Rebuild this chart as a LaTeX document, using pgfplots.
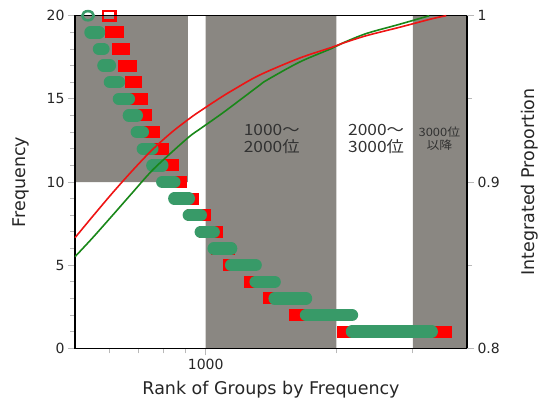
\documentclass[border=0pt]{standalone}
\usepackage{fontspec}
\setmainfont{DejaVu Sans}
\newfontfamily\jp[FakeStretch=1.12]{Noto Sans CJK JP}
\usepackage{pgfplots}
\pgfplotsset{compat=1.18}
\definecolor{bandgray}{RGB}{138,135,130}
\definecolor{bargreen}{RGB}{56,154,104}
\definecolor{barred}{RGB}{255,0,0}
\definecolor{curvered}{RGB}{238,20,20}
\definecolor{curvegreen}{RGB}{25,135,25}
\definecolor{textgray}{RGB}{50,50,50}
\newcommand{\rbar}[3]{\addplot[barred, mark=none, line width=12pt, line cap=rect] coordinates {(#1,#3) (#2,#3)};}
\newcommand{\gbar}[3]{\addplot[bargreen, mark=none, line width=12.4pt, line cap=round] coordinates {(#1,#3) (#2,#3)};}
\begin{document}
\begin{tikzpicture}[x=1pt,y=1pt]
\useasboundingbox (0,0) rectangle (543,405);
\begin{axis}[
  at={(75pt,56.7pt)}, anchor=south west,
  width=392pt, height=332.6pt, scale only axis,
  xmode=log, xmin=500, xmax=4000,
  ymin=0, ymax=20,
  xtick={1000}, xticklabels={1000},
  minor xtick={600,700,800,900,2000,3000},
  ytick={0,5,10,15,20}, minor ytick={1,2,3,4,6,7,8,9,11,12,13,14,16,17,18,19},
  xtick pos=bottom, ytick pos=left,
  tick style={gray!55, line width=0.8pt},
  major tick length=7pt, minor tick length=5pt,
  tick align=outside,
  axis line style={black, line width=1.2pt},
  axis on top,
  ticklabel style={font=\fontsize{14}{16}\selectfont, text=black!85},
  /pgf/number format/assume math mode=true,
  xlabel={Rank of Groups by Frequency}, ylabel={Frequency},
  label style={font=\fontsize{17.5}{20}\selectfont, text=black!85},
  xlabel style={at={(axis description cs:0.5,-0.124)}, anchor=center},
  ylabel style={at={(axis description cs:-0.137,0.5)}, anchor=center},
  clip=false,
]
% background bands
\addplot[fill=bandgray, draw=none, mark=none] coordinates {(500,10) (910,10) (910,20) (500,20) (500,10)};
\addplot[fill=bandgray, draw=none, mark=none] coordinates {(1000,0) (2000,0) (2000,20) (1000,20) (1000,0)};
\addplot[fill=bandgray, draw=none, mark=none] coordinates {(3000,0) (4000,0) (4000,20) (3000,20) (3000,0)};
% red bars
\addplot[barred, mark=none, line width=2.5pt, line cap=rect] coordinates {(580.6,19.714) (620.3,19.714) (620.3,20.286) (580.6,20.286) (580.6,19.714)};
\rbar{605}{627.7}{19}
\rbar{627.7}{648}{18}
\rbar{648}{672.6}{17}
\rbar{672.6}{690.5}{16}
\rbar{690.5}{712.8}{15}
\rbar{712.8}{728.1}{14}
\rbar{728.1}{759.6}{13}
\rbar{759.6}{796.6}{12}
\rbar{796.6}{840.1}{11}
\rbar{840.1}{876.5}{10}
\rbar{876.5}{933.7}{9}
\rbar{933.7}{997.6}{8}
\rbar{997.6}{1060.3}{7}
\rbar{1060.3}{1129.7}{6}
\rbar{1129.7}{1262.8}{5}
\rbar{1262.8}{1396.4}{4}
\rbar{1396.4}{1602.3}{3}
\rbar{1602.3}{2076.8}{2}
\rbar{2076.8}{3583}{1}
% green bars
\addplot[only marks, mark=o, mark size=4.6pt, mark options={bargreen, line width=2.6pt, xscale=1.25}] coordinates {(535.6,20)};
\gbar{542.8}{567.8}{19}
\gbar{567.8}{581.4}{18}
\gbar{581.4}{601.7}{17}
\gbar{601.7}{631.1}{16}
\gbar{631.1}{665.3}{15}
\gbar{665.3}{694.1}{14}
\gbar{694.1}{716.6}{13}
\gbar{716.6}{753.6}{12}
\gbar{753.6}{794.5}{11}
\gbar{794.5}{846.8}{10}
\gbar{846.8}{914.4}{9}
\gbar{914.4}{974.4}{8}
\gbar{974.4}{1043.4}{7}
\gbar{1043.4}{1144.6}{6}
\gbar{1144.6}{1303.4}{5}
\gbar{1303.4}{1441.6}{4}
\gbar{1441.6}{1702.8}{3}
\gbar{1702.8}{2172.6}{2}
\gbar{2172.6}{3317.6}{1}
% annotations
\node[font=\jp\fontsize{15.5}{17}\selectfont, text=textgray, align=center] at (axis cs:1420,12.6) {1000〜\\2000位};
\node[font=\jp\fontsize{15.5}{17}\selectfont, text=textgray, align=center] at (axis cs:2470,12.6) {2000〜\\3000位};
\node[font=\jp\fontsize{11.5}{12.5}\selectfont, text=textgray, align=center] at (axis cs:3455,12.6) {3000位\\以降};
\end{axis}
\begin{axis}[
  at={(75pt,56.7pt)}, anchor=south west,
  width=392pt, height=332.6pt, scale only axis,
  xmode=log, xmin=500, xmax=4000,
  ymin=0.8, ymax=1,
  axis x line=none, axis y line*=right,
  ytick={0.8,0.9,1}, yticklabels={0.8,0.9,1},
  minor ytick={0.85,0.95},
  tick style={gray!55, line width=0.8pt},
  major tick length=7pt, minor tick length=5pt,
  tick align=outside,
  axis line style={black, line width=1.2pt},
  ticklabel style={font=\fontsize{14}{16}\selectfont, text=black!85},
  /pgf/number format/assume math mode=true,
  ylabel={Integrated Proportion},
  label style={font=\fontsize{17.5}{20}\selectfont, text=black!85},
  ylabel style={at={(axis description cs:1.161,0.5)}, anchor=center},
  clip=false,
]
\addplot[curvegreen, mark=none, line width=1.6pt, smooth] coordinates {
(500,0.8551) (547,0.8660) (608,0.8795) (676,0.8932) (752,0.9068) (836,0.9180)
(919,0.9275) (969,0.9318) (1077,0.9402) (1154,0.9460) (1331,0.9582) (1382,0.9612)
(1645,0.9721) (1959,0.9805) (2066,0.9835) (2346,0.9893) (2793,0.9948) (3274,1.0)};
\addplot[curvered, mark=none, line width=1.6pt, smooth] coordinates {
(500,0.8665) (547,0.8788) (608,0.8930) (676,0.9065) (752,0.9192) (836,0.9300)
(919,0.9383) (969,0.9425) (1077,0.9504) (1154,0.9552) (1331,0.9643) (1645,0.9745)
(1959,0.9811) (2066,0.9834) (2346,0.9880) (2793,0.9930) (3326,0.9982) (3583,1.0)};
\end{axis}
\end{tikzpicture}
\end{document}
